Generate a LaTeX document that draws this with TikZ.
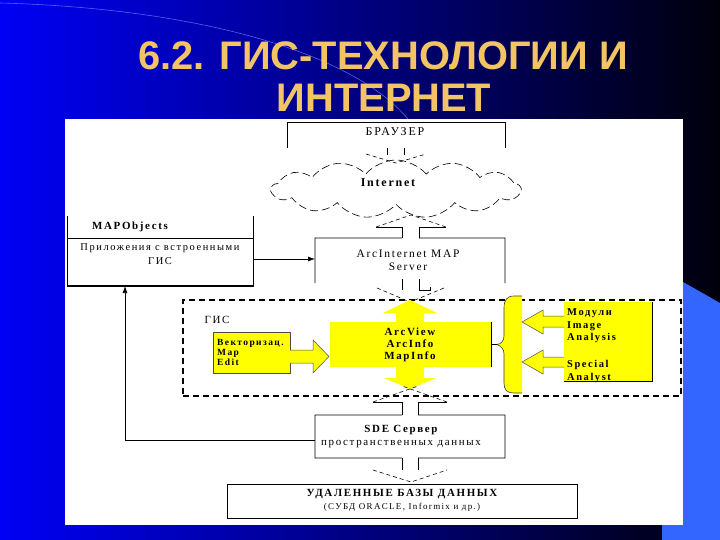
\documentclass[tikz,border=0pt]{standalone}
\usepackage{fontspec}
\setmainfont{Liberation Serif}
\newfontfamily\titlefont{Liberation Sans}
\newfontfamily\dfont[LetterSpace=15]{Liberation Serif}
\usetikzlibrary{shapes.symbols,arrows.meta}
\definecolor{gold}{RGB}{242,196,100}
\definecolor{ylw}{RGB}{255,255,0}
\definecolor{sideblue}{RGB}{51,102,255}
\definecolor{bgL}{RGB}{0,0,245}
\definecolor{bgR}{RGB}{0,0,12}
\definecolor{arcline}{RGB}{120,140,255}
\begin{document}
\begin{tikzpicture}[x=1bp,y=-1bp,
  ln/.style={line width=0.7bp,black},
  dsh/.style={line width=0.6bp,black,dash pattern=on 4bp off 3bp},
  clouddash/.style={line width=0.6bp,black,dash pattern=on 8bp off 4bp},
  gisdash/.style={line width=1.2bp,black,dash pattern=on 6bp off 4bp},
  geom/.style={inner sep=0pt,outer sep=0pt,draw=none,rectangle},
  lbl/.style={inner sep=0pt,font={\dfont\fontsize{11}{13}\selectfont}},
  blbl/.style={inner sep=0pt,font={\dfont\bfseries\fontsize{11}{13}\selectfont}},
  yedge/.style={fill=ylw,draw=black!70,line width=0.5bp},
  ttl/.style={inner sep=0pt,anchor=base,text=gold,font={\titlefont\bfseries\fontsize{40}{44}\selectfont}}
]
\useasboundingbox (0,0) rectangle (720,540);
% background
\shade[left color=bgL,right color=bgR] (0,0) rectangle (720,540);
\draw[line width=0.6bp,arcline,opacity=0.7] (0,3) .. controls (190,8) and (350,50) .. (408,119);
\fill[sideblue] (662,270) -- (720,303) -- (720,540) -- (662,540) -- cycle;
\fill[white] (65,119) rectangle (683,525);
% title
\node[ttl] (t1) at (383,70) {6.2. ГИС-ТЕХНОЛОГИИ И};
\node[ttl] (t2) at (384,112) {ИНТЕРНЕТ};

% browser
\node[geom,minimum width=218bp,minimum height=26bp] (browser) at (396,135) {};
\draw[ln] (browser.south west) -- (browser.north west) -- (browser.north east) -- (browser.south east);
\node[lbl,font={\dfont\fontsize{12}{14}\selectfont}] (brtxt) at (395,132) {БРАУЗЕР};
\draw[ln] (387,148) -- (387,155);
\draw[ln] (404,148) -- (404,155);
\draw[dsh] (366,154) -- (396,163) -- (426,154);

% cloud
\node[cloud,cloud puffs=13,cloud puff arc=100,aspect=4.3,draw,clouddash,
      minimum width=249bp,minimum height=58bp,inner sep=0pt] (net) at (396,189) {};
\node[blbl,font={\dfont\bfseries\fontsize{12}{14}\selectfont}] (nettxt) at (388,183) {Internet};

% ArcInternet MAP Server
\node[geom,minimum width=190bp,minimum height=45bp] (ims) at (410,260.5) {};
\draw[ln] (ims.south west) -- (ims.north west) -- (402,238);
\draw[ln] (419,238) -- (ims.north east) -- (ims.south east);
\node[lbl,align=center,font={\dfont\fontsize{11.5}{13}\selectfont}] (imstxt) at (408,260) {ArcInternet MAP\\Server};
\draw[ln] (402,238) -- (402,227) -- (376,227);
\draw[ln] (419,238) -- (419,227) -- (446,227);
\draw[dsh] (376,227) -- (411,215) -- (446,227);
% arrow from server down to GIS
\draw[ln] (402,279) -- (402,290);
\draw[ln] (419,279) -- (419,290) -- (430,290) -- (430,287);
\draw[dsh] (377,288) -- (417,305);
\draw[dsh] (444,288) -- (403,305);

% MAPObjects
\node[geom,minimum width=186bp,minimum height=70bp] (mo) at (160,251) {};
\draw[ln] (mo.north west) -- (mo.south west) -- (mo.south east) -- (mo.north east);
\draw[line width=1.6bp] (mo.south west) -- (mo.south east);
\draw[ln] (mo.west |- 0,238) -- (mo.east |- 0,238);
\node[blbl] (motitle) at (130,227) {MAPObjects};
\node[lbl,align=center,font={\dfont\fontsize{10.5}{14}\selectfont}] (motxt) at (160,254.5) {Приложения с встроенными\\ГИС};
\draw[ln,-{Latex[length=7bp,width=5bp]}] (mo.east |- 0,259) -- (ims.west |- 0,259);

% GIS region
\node[geom,draw,gisdash,minimum width=498bp,minimum height=96bp] (gis) at (432,348) {};
\node[lbl] (gistxt) at (217,320) {ГИС};

% yellow double arrow
\fill[ylw] (410,300) -- (437,313) -- (424,313) -- (424,378) -- (436,378) -- (410,389)
   -- (384,378) -- (396,378) -- (396,313) -- (383,313) -- cycle;

% left yellow box
\node[geom,yedge,minimum width=77bp,minimum height=41bp] (vec) at (251.5,352.5) {};
\node[blbl,align=left,anchor=west,font={\dfont\bfseries\fontsize{9.5}{10}\selectfont}] (vectxt) at (217,352.5) {Векторизац.\\Map\\Edit};
\filldraw[yedge] (vec.east |- 0,350) -- (313,350) -- (313,340) -- (329,356.5) -- (313,373) -- (313,363) -- (vec.east |- 0,363);

% ArcView box
\node[geom,fill=ylw,minimum width=161bp,minimum height=45bp] (av) at (410.5,344.5) {};
\draw[ln] (av.north east) -- (av.south east);
\node[blbl,align=center,font={\dfont\bfseries\fontsize{11}{12}\selectfont}] (avtxt) at (410,344.5) {ArcView\\ArcInfo\\MapInfo};

% brace
\coordinate (bracetip) at (497,344.5);
\filldraw[fill=ylw,draw=black!75,line width=0.6bp] (522,296) -- (514,296)
  .. controls (507,296) and (504,300) .. (504,308) -- (504,336)
  .. controls (504,341) and (501,344) .. (bracetip)
  .. controls (501,346) and (504,349) .. (504,354) -- (504,383)
  .. controls (504,390) and (507,393) .. (514,393) -- (522,393);
\draw[ln] (av.east) -- (bracetip);

% right yellow box
\node[geom,fill=ylw,minimum width=88bp,minimum height=79bp] (mod) at (608,341.5) {};
\draw[ln] (mod.north east) -- (mod.south east) -- (mod.south west);
\node[blbl,align=left,anchor=north west,font={\dfont\bfseries\fontsize{10.5}{13}\selectfont}] (modtxt) at (567,308) {Модули\\Image\\Analysis\\[14bp]Special\\Analyst};
\filldraw[yedge] (mod.west |- 0,316) -- (543,316) -- (543,310) -- (522,322) -- (543,334) -- (543,327) -- (mod.west |- 0,327);
\filldraw[yedge] (mod.west |- 0,357) -- (543,357) -- (543,350) -- (522,362) -- (543,374) -- (543,367) -- (mod.west |- 0,367);

% SDE arrow up
\draw[ln] (402,415) -- (402,402) -- (373,402);
\draw[ln] (418,415) -- (418,402) -- (447,402);
\draw[dsh] (373,402) -- (418,386);
\draw[dsh] (447,402) -- (402,386);

% SDE box
\node[geom,minimum width=190bp,minimum height=43bp] (sde) at (410,436.5) {};
\draw[ln] (402,415) -- (sde.north west) -- (sde.south west) -- (402,458);
\draw[ln] (418,415) -- (sde.north east) -- (sde.south east) -- (418,458);
\node[lbl,align=center,font={\dfont\fontsize{11}{13}\selectfont}] (sdetxt) at (401,436.5) {{\bfseries SDE Сервер}\\пространственных данных};
\draw[ln] (402,458) -- (402,470);
\draw[ln] (418,458) -- (418,470);
\draw[dsh] (373,470) -- (411,482) -- (447,470);

% feedback connector
\coordinate (fbc) at (125,440);
\draw[ln,-{Latex[length=7bp,width=5bp]}] (sde.west |- fbc) -- (fbc) -- (fbc |- mo.south);

% remote databases
\node[geom,draw,ln,minimum width=350bp,minimum height=34bp] (db) at (402,501) {};
\node[lbl,align=center,font={\dfont\fontsize{11}{13}\selectfont}] (dbtxt) at (402,500.5) {{\bfseries УДАЛЕННЫЕ БАЗЫ ДАННЫХ}\\{\fontsize{9}{13}\selectfont (СУБД ORACLE, Informix и др.)}};
\end{tikzpicture}
\end{document}
